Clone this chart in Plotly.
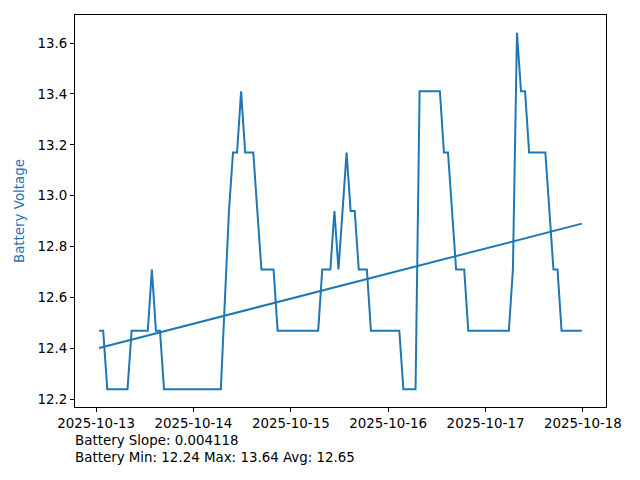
import numpy as np
import pandas as pd
import plotly.graph_objects as go

start_time = "2025-10-13 00:45"
# hourly battery voltage readings (None = missing sample)
voltages = [
    12.47, 12.47, 12.24, 12.24, 12.24, 12.24, 12.24, 12.24, 12.47, 12.47,
    12.47, 12.47, 12.47, 12.71, 12.47, 12.47, 12.24, 12.24, 12.24, 12.24,
    12.24, 12.24, 12.24, 12.24, 12.24, 12.24, 12.24, 12.24, 12.24, 12.24,
    12.24, None, 12.94, 13.17, 13.17, 13.41, 13.17, 13.17, 13.17, 12.94,
    12.71, 12.71, 12.71, 12.71, 12.47, 12.47, 12.47, 12.47, 12.47, 12.47,
    12.47, 12.47, 12.47, 12.47, 12.47, 12.71, 12.71, 12.71, 12.94, 12.71,
    12.94, 13.17, 12.94, 12.94, 12.71, 12.71, 12.71, 12.47, 12.47, 12.47,
    12.47, 12.47, 12.47, 12.47, 12.47, 12.24, 12.24, 12.24, 12.24, 13.41,
    13.41, 13.41, 13.41, 13.41, 13.41, 13.17, 13.17, 12.94, 12.71, 12.71,
    12.71, 12.47, 12.47, 12.47, 12.47, 12.47, 12.47, 12.47, 12.47, 12.47,
    12.47, 12.47, 12.71, 13.64, 13.41, 13.41, 13.17, 13.17, 13.17, 13.17,
    13.17, 12.94, 12.71, 12.71, 12.47, 12.47, 12.47, 12.47, 12.47, 12.47,
]
x_ticks = ["2025-10-13", "2025-10-14", "2025-10-15", "2025-10-16", "2025-10-17", "2025-10-18"]
y_ticks = [12.2, 12.4, 12.6, 12.8, 13.0, 13.2, 13.4, 13.6]
stats_text = ["Battery Slope: 0.004118", "Battery Min: 12.24 Max: 13.64 Avg: 12.65"]

times = pd.date_range(start_time, periods=len(voltages), freq="h")
v = np.array([np.nan if a is None else a for a in voltages], dtype=float)
mask = ~np.isnan(v)
hours = (times - times[0]).total_seconds().values / 3600.0
coef = np.polyfit(hours[mask], v[mask], 1)
t_first, t_last = times[mask][0], times[mask][-1]
h_first, h_last = hours[mask][0], hours[mask][-1]
trend_y = [coef[0] * h_first + coef[1], coef[0] * h_last + coef[1]]

blue = "#1f77b4"
FS = 13.4
font = dict(family="DejaVu Sans", size=FS, color="black")

fig = go.Figure()
fig.add_trace(go.Scatter(x=times, y=v, mode="lines", connectgaps=True,
                         line=dict(color=blue, width=2), showlegend=False))
fig.add_trace(go.Scatter(x=[t_first, t_last], y=trend_y, mode="lines",
                         line=dict(color=blue, width=2), showlegend=False))

span = (t_last - t_first)
x0 = t_first - span * 0.05
x1 = t_last + span * 0.05
ymin, ymax = np.nanmin(v), np.nanmax(v)
yr = ymax - ymin

fig.update_layout(
    width=640, height=480,
    margin=dict(l=75, r=34, t=15, b=73, autoexpand=False),
    paper_bgcolor="white", plot_bgcolor="white",
    font=font,
    xaxis=dict(range=[x0, x1], tickvals=pd.to_datetime(x_ticks), ticktext=x_ticks,
               showgrid=False, zeroline=False, showline=True, linecolor="black",
               linewidth=1, mirror=True, ticks="outside", ticklen=4, tickcolor="black",
               tickfont=font, automargin=False),
    yaxis=dict(range=[ymin - 0.05 * yr, ymax + 0.05 * yr], tickvals=y_ticks,
               ticktext=[f"{t:.1f}" for t in y_ticks],
               showgrid=False, zeroline=False, showline=True, linecolor="black",
               linewidth=1, mirror=True, ticks="outside", ticklen=4, tickcolor="black",
               tickfont=font, automargin=False,
               title=dict(text="Battery Voltage", font=dict(family="DejaVu Sans", size=FS, color=blue),
                          standoff=9)),
    annotations=[dict(x=-0.004, y=-0.061, xref="paper", yref="paper", xanchor="left", yanchor="top",
                      text="<br>".join(stats_text), showarrow=False, align="left",
                      font=font)],
)

fig.write_html("out.html", config={"displayModeBar": False},
               post_script="document.body.style.margin='0';document.body.style.padding='0';")
